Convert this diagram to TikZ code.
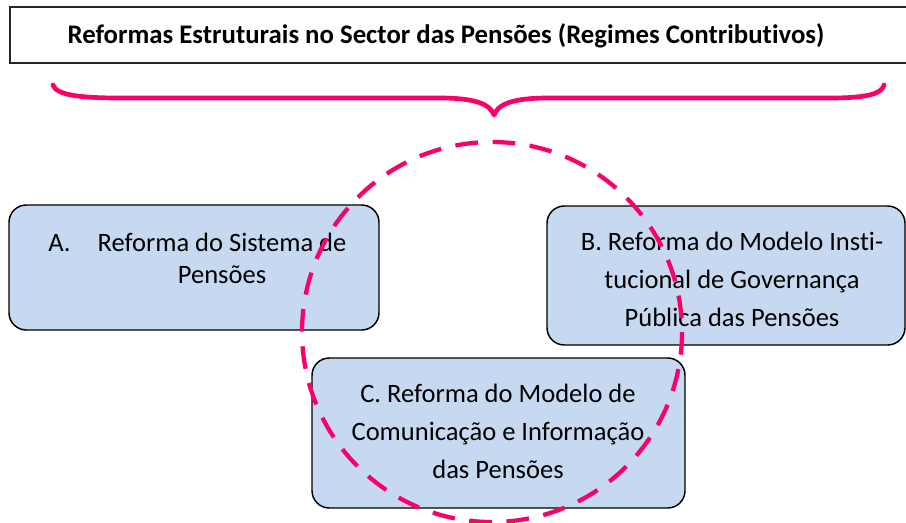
\documentclass[tikz,border=0pt]{standalone}
\usepackage{fontspec}
\setmainfont{Carlito}[Ligatures=NoCommon]
\usetikzlibrary{fit}
\definecolor{pinkline}{RGB}{250,0,105}
\definecolor{boxblue}{RGB}{198,217,241}

\begin{document}
\begin{tikzpicture}[x=0.75pt,y=-0.75pt,
  reform/.style={draw=black, line width=1.1pt, fill=boxblue, rounded corners=13pt, inner sep=0pt},
  words/.style={align=center, font=\fontsize{19.9}{28.5}\selectfont, inner sep=0pt},
  ring/.style={draw=pinkline, line width=3.2pt, dash pattern=on 17pt off 11pt}]
\useasboundingbox (0,0) rectangle (906,522);

\coordinate (t1) at (10,7);
\coordinate (t2) at (914,63);
\node[draw=black!85, line width=1.5pt, inner sep=0pt, fit=(t1)(t2)] (head) {};
\node[anchor=base, inner sep=0pt, font=\fontsize{20.1}{24}\selectfont\bfseries] (title) at (446,43)
  {Reformas Estruturais no Sector das Pensões (Regimes Contributivos)};

\coordinate (bl) at (53,85);
\coordinate (br) at (884,85);
\coordinate (tip) at (494,115);
\draw[pinkline, line width=3.5pt, line cap=round, line join=round]
  (bl) .. controls (56,95) and (80,98) .. (120,98) -- (440,98)
  .. controls (475,98) and (490,104) .. (tip)
  .. controls (498,104) and (513,98) .. (548,98) -- (830,98)
  .. controls (870,98) and (882,93) .. (br);

\coordinate (a1) at (9,205);
\coordinate (a2) at (379,330);
\coordinate (b1) at (547,206);
\coordinate (b2) at (905,345);
\coordinate (c1) at (312,358);
\coordinate (c2) at (685,508);
\node[reform, fit=(a1)(a2)] (boxA) {};
\node[reform, fit=(b1)(b2)] (boxB) {};
\node[reform, fit=(c1)(c2)] (boxC) {};

\node[words, anchor=base west] (labA) at (48,251) {A.};
\node[words, font=\fontsize{19.9}{24}\selectfont] (txtA) at (222,258) {Reforma do Sistema de\\Pensões};
\node[words] (txtB) at (732,279) {B. Reforma do Modelo Insti-\\tucional de Governança\\Pública das Pensões};
\node[words] (txtC) at (498,431) {C. Reforma do Modelo de\\Comunicação e Informação\\das Pensões};

\coordinate (ringc) at (492,332);
\draw[ring] (ringc) circle[radius=190];

\end{tikzpicture}
\end{document}
